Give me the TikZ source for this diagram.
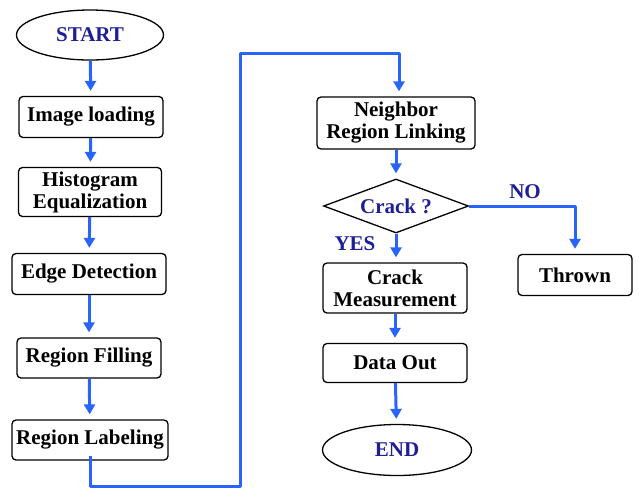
\documentclass[tikz,border=0pt]{standalone}
\usepackage{fontspec}
\setmainfont{Liberation Serif}
\usetikzlibrary{shapes.geometric,arrows.meta}
\definecolor{flowblue}{RGB}{40,100,250}
\definecolor{txtblue}{RGB}{30,30,150}
\begin{document}
\begin{tikzpicture}[x=1pt,y=-1pt,
  every node/.style={font=\fontsize{21}{22}\selectfont\bfseries, align=center, inner sep=0pt},
  procbox/.style={draw=black, line width=1.3pt, rounded corners=4pt},
  term/.style={draw=black, line width=1.3pt, ellipse, text=txtblue},
  decis/.style={draw=black, line width=1.3pt, diamond, aspect=2.7, text=txtblue},
  flow/.style={draw=flowblue, line width=3pt, shorten >=5pt, -{Triangle[length=10pt,width=11pt]}},
  lbl/.style={text=txtblue}]
\useasboundingbox (0,0) rectangle (639,488);
\node[term, minimum width=147, minimum height=50] (start) at (90,35) {START};
\node[procbox, minimum width=144, minimum height=41] (img) at (91,117) {Image loading};
\node[procbox, minimum width=143, minimum height=49] (hist) at (90,192) {Histogram\\Equalization};
\node[procbox, minimum width=154, minimum height=41] (edge) at (89,274) {Edge Detection};
\node[procbox, minimum width=144, minimum height=40] (fill) at (89,358) {Region Filling};
\node[procbox, minimum width=156, minimum height=40] (lab) at (90,440) {Region Labeling};
\node[procbox, minimum width=158, minimum height=52] (nb) at (396,123) {Neighbor\\Region Linking};
\node[decis, minimum width=145, minimum height=54] (crack) at (396,206) {Crack ?};
\node[procbox, minimum width=144, minimum height=50] (meas) at (395,288) {Crack\\Measurement};
\node[procbox, minimum width=114, minimum height=41] (thrown) at (575,275) {Thrown};
\node[procbox, minimum width=144, minimum height=39] (data) at (395,363) {Data Out};
\node[term, minimum width=149, minimum height=51] (end) at (397,450) {END};
\node[lbl] (yes) at (355,244) {YES};
\node[lbl] (no) at (525,192) {NO};
\coordinate (c1) at (90,486);
\coordinate (c2) at (240,486);
\coordinate (c3) at (240,53);
\coordinate (c4) at (399,53);
\draw[flow] (start) -- (img);
\draw[flow] (img) -- (hist);
\draw[flow] (hist) -- (edge);
\draw[flow] (edge) -- (fill);
\draw[flow] (fill) -- (lab);
\draw[flow, line join=round] ([yshift=5pt]lab.south) -- (c1) -- (c2) -- (c3) -- (c4) -- (nb.north -| c4);
\draw[flow] (nb) -- (crack);
\draw[flow] (crack.south) -- (crack.south |- meas.north);
\draw[flow, line join=round] (crack.east) -| (thrown.north);
\draw[flow] (meas) -- (data);
\draw[flow] (data) -- (end);
\end{tikzpicture}
\end{document}
